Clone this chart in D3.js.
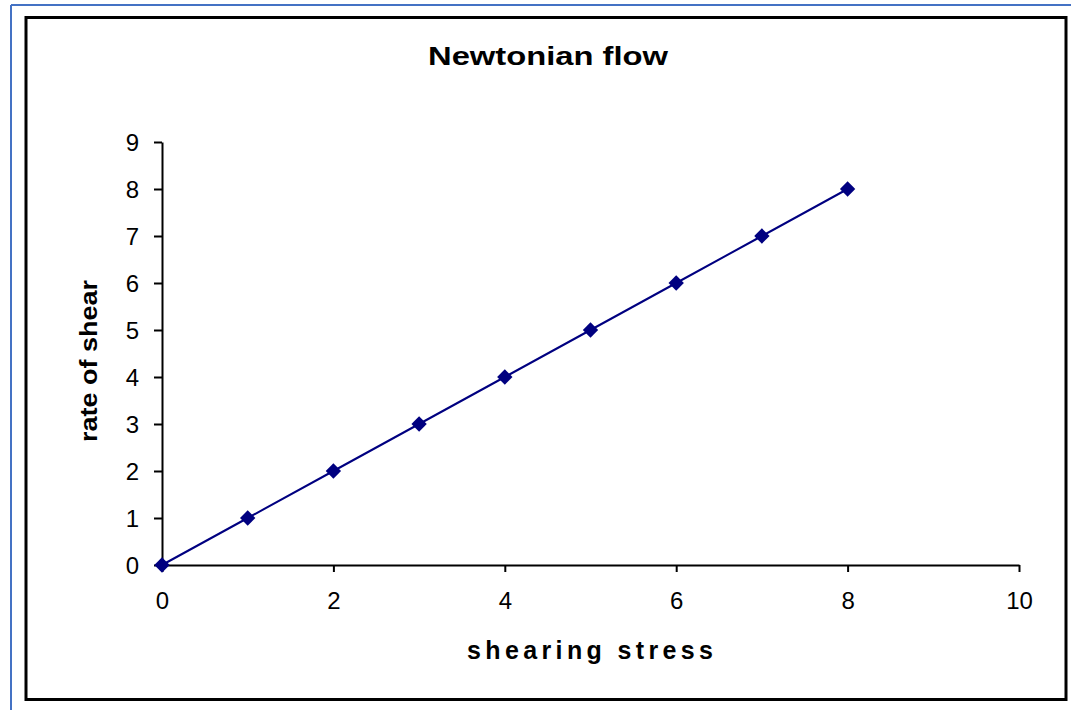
<!DOCTYPE html>
<html><head><meta charset="utf-8">
<script src="https://cdn.jsdelivr.net/npm/d3@7"></script>
<style>html,body{margin:0;padding:0;background:#fff;}svg{display:block;}</style>
</head><body>
<script>
const xValues = [0, 1, 2, 3, 4, 5, 6, 7, 8];
const yValues = [0, 1, 2, 3, 4, 5, 6, 7, 8];
const xTicks = [0, 2, 4, 6, 8, 10];
const yTicks = [0, 1, 2, 3, 4, 5, 6, 7, 8, 9];
const titleText = "Newtonian flow";
const xTitle = "shearing stress";
const yTitle = "rate of shear";

const W = 1071, H = 710;
const svg = d3.select("body").append("svg").attr("width", W).attr("height", H);
const font = "Arial, 'Liberation Sans', sans-serif";

// outer blue border (top + left)
svg.append("line").attr("x1", 11).attr("y1", 5).attr("x2", W).attr("y2", 5)
  .attr("stroke", "#4472C4").attr("stroke-width", 2);
svg.append("line").attr("x1", 11).attr("y1", 5).attr("x2", 11).attr("y2", H)
  .attr("stroke", "#4472C4").attr("stroke-width", 2);

// chart frame
svg.append("rect").attr("x", 26).attr("y", 17.5).attr("width", 1040).attr("height", 682)
  .attr("fill", "none").attr("stroke", "#000").attr("stroke-width", 3);

const x = d3.scaleLinear().domain([0, 10]).range([162, 1019]);
const y = d3.scaleLinear().domain([0, 9]).range([565, 142]);

const xAxis = svg.append("g").attr("transform", "translate(0,565)")
  .call(d3.axisBottom(x).tickValues(xTicks).tickSize(7).tickSizeOuter(0).tickPadding(20));
const yAxis = svg.append("g").attr("transform", "translate(162,0)")
  .call(d3.axisLeft(y).tickValues(yTicks).tickSize(8).tickSizeOuter(0).tickPadding(15));
[xAxis, yAxis].forEach(a => {
  a.select(".domain").attr("stroke", "#000").attr("stroke-width", 2);
  a.selectAll(".tick line").attr("stroke", "#000").attr("stroke-width", 2);
  a.selectAll(".tick text").attr("fill", "#000").style("font-family", font).style("font-size", "24px");
});
yAxis.selectAll(".tick text").attr("dy", "0.36em");

// line
const line = d3.line().x((d, i) => x(xValues[i])).y(d => y(d));
svg.append("path").datum(yValues).attr("d", line)
  .attr("fill", "none").attr("stroke", "#000080").attr("stroke-width", 2);

// markers
const sym = d3.symbol().type(d3.symbolDiamond2).size(150);
svg.selectAll(".pt").data(yValues).enter().append("path")
  .attr("d", sym).attr("transform", (d, i) => `translate(${x(xValues[i])},${y(d)})`)
  .attr("fill", "#000080");

// titles
svg.append("text").attr("x", 428).attr("y", 65).attr("textLength", 240)
  .attr("lengthAdjust", "spacingAndGlyphs")
  .style("font-family", font).style("font-weight", "bold").style("font-size", "25px")
  .text(titleText);
svg.append("text").attr("x", 467).attr("y", 659).attr("textLength", 246)
  .attr("lengthAdjust", "spacing")
  .style("font-family", font).style("font-weight", "bold").style("font-size", "25px")
  .text(xTitle);
svg.append("text").attr("transform", "translate(97,442) rotate(-90)")
  .attr("textLength", 162).attr("lengthAdjust", "spacingAndGlyphs")
  .style("font-family", font).style("font-weight", "bold").style("font-size", "24px")
  .text(yTitle);
</script>
</body></html>
